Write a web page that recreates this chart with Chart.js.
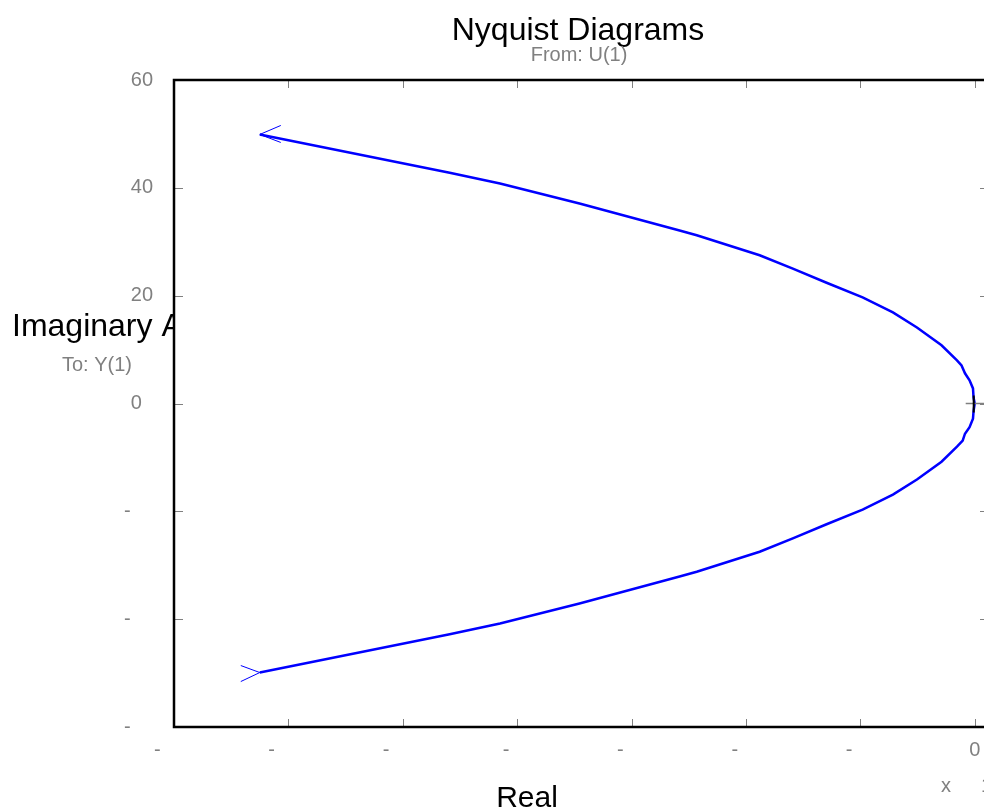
<!DOCTYPE html>
<html>
<head>
<meta charset="utf-8">
<script src="https://cdn.jsdelivr.net/npm/chart.js@4"></script>
<style>
  html, body { margin: 0; padding: 0; background: #fff; overflow: hidden; }
  #wrap { width: 1000px; height: 812px; }
</style>
</head>
<body>
<div id="wrap"><canvas id="myChart"></canvas></div>
<script>
// Nyquist path (real part in x 10^4, imaginary part)
const nyqRe = [-12.5, -9.18, -8.30, -6.91, -5.16, -4.86, -3.76, -3.18, -2.59, -1.96, -1.43, -1.01, -0.58, -0.31, -0.21, -0.17, -0.09, -0.03, -0.02, 0,
               -0.02, -0.03, -0.09, -0.17, -0.23, -0.31, -0.58, -1.01, -1.43, -1.96, -2.59, -3.18, -3.76, -4.86, -5.16, -6.91, -8.30, -9.18, -12.5];
const nyqIm = [-49.9, -42.8, -40.8, -37.1, -32.1, -31.2, -27.5, -25.0, -22.4, -19.7, -16.9, -14.1, -10.8, -8.0, -6.9, -5.6, -4.4, -2.8, -1.4, 0,
               1.1, 2.8, 4.3, 5.6, 7.05, 8.0, 10.8, 14.1, 16.9, 19.7, 22.4, 25.0, 27.5, 31.2, 32.1, 37.1, 40.8, 42.8, 49.9];
const xTicks = [-14, -12, -10, -8, -6, -4, -2, 0];
const yTicks = [-60, -40, -20, 0, 20, 40, 60];

const FONT = "'Liberation Sans', Arial, Helvetica, sans-serif";
const GRAY = '#808080';
const FS = '\u2007';

// negative labels only show their minus sign; pad so the sign sits where it does in the picture
const xTickText = v => v < 0 ? '-' + FS.repeat(String(Math.abs(v)).length + 1) : String(v);
const yTickText = v => v < 0 ? '-' + FS.repeat(String(Math.abs(v)).length) : (v === 0 ? '0' + FS : String(v));

const frame = {
    id: 'frame',
    beforeDraw(chart) {
        const {ctx, chartArea: a} = chart;
        ctx.save();
        ctx.fillStyle = '#000';
        ctx.font = '32px ' + FONT;
        ctx.textBaseline = 'alphabetic';
        ctx.textAlign = 'left';
        ctx.fillText('Imaginary Axis', 12, 336);
        ctx.fillStyle = '#fff';
        ctx.fillRect(a.left, a.top, a.right - a.left, a.bottom - a.top);
        ctx.restore();
    },
    afterDraw(chart) {
        const {ctx, chartArea: a, scales: {x, y}} = chart;
        ctx.save();
        // inward tick marks
        ctx.strokeStyle = GRAY;
        ctx.lineWidth = 1;
        ctx.beginPath();
        xTicks.forEach(v => {
            const px = Math.round(x.getPixelForValue(v)) + 0.5;
            ctx.moveTo(px, a.top); ctx.lineTo(px, a.top + 8);
            ctx.moveTo(px, a.bottom); ctx.lineTo(px, a.bottom - 8);
        });
        yTicks.forEach(v => {
            const py = Math.round(y.getPixelForValue(v)) + 0.5;
            ctx.moveTo(a.left, py); ctx.lineTo(a.left + 9, py);
            ctx.moveTo(a.right, py); ctx.lineTo(a.right - 9, py);
        });
        ctx.stroke();

        // box
        ctx.strokeStyle = '#000';
        ctx.lineWidth = 2.5;
        ctx.strokeRect(a.left, a.top, a.right - a.left, a.bottom - a.top);

        // marker at the origin
        const ox = x.getPixelForValue(0), oy = y.getPixelForValue(0);
        ctx.strokeStyle = GRAY;
        ctx.lineWidth = 1.5;
        ctx.beginPath();
        ctx.moveTo(ox - 9, oy); ctx.lineTo(ox + 12, oy);
        ctx.stroke();
        ctx.strokeStyle = '#000';
        ctx.lineWidth = 2;
        ctx.beginPath();
        ctx.moveTo(ox - 1, oy - 8); ctx.lineTo(ox - 1, oy + 9);
        ctx.stroke();

        // direction arrows at both ends of the path
        const n = nyqRe.length - 1;
        const tx = x.getPixelForValue(nyqRe[n]), ty = y.getPixelForValue(nyqIm[n]);
        const bx = x.getPixelForValue(nyqRe[0]), by = y.getPixelForValue(nyqIm[0]);
        ctx.strokeStyle = '#0000ff';
        ctx.lineWidth = 1;
        ctx.beginPath();
        ctx.moveTo(tx + 21, ty - 9); ctx.lineTo(tx, ty); ctx.lineTo(tx + 21, ty + 8);
        ctx.moveTo(bx - 19, by - 7); ctx.lineTo(bx, by); ctx.lineTo(bx - 19, by + 9);
        ctx.stroke();

        // titles and labels
        ctx.fillStyle = '#000';
        ctx.textAlign = 'center';
        ctx.textBaseline = 'alphabetic';
        ctx.font = '32px ' + FONT;
        ctx.fillText('Nyquist Diagrams', 578, 40);
        ctx.font = '30px ' + FONT;
        ctx.fillText('Real', 527, 807);
        ctx.fillStyle = GRAY;
        ctx.font = '20px ' + FONT;
        ctx.fillText('From: U(1)', 579, 61);
        ctx.textAlign = 'left';
        ctx.fillText('To: Y(1)', 62, 371);
        ctx.fillText('x', 941, 792);
        ctx.fillText('10', 981, 792);
        ctx.restore();
    }
};

new Chart(document.getElementById('myChart'), {
    type: 'scatter',
    data: {
        datasets: [{
            data: nyqRe.map((re, i) => ({x: re, y: nyqIm[i]})),
            showLine: true,
            borderColor: '#0000ff',
            borderWidth: 2.5,
            pointRadius: 0,
            tension: 0,
            fill: false,
        }]
    },
    options: {
        responsive: true,
        maintainAspectRatio: false,
        devicePixelRatio: 1,
        animation: false,
        layout: { padding: { left: 0, top: 80, right: 11, bottom: 0 } },
        plugins: { legend: { display: false }, tooltip: { enabled: false }, title: { display: false } },
        scales: {
            x: {
                type: 'linear',
                min: -14,
                max: 0.25,
                afterBuildTicks: s => { s.ticks = xTicks.map(v => ({value: v})); },
                afterFit: s => { s.height = 85; },
                grid: { display: false, drawTicks: false },
                border: { display: false },
                ticks: {
                    color: GRAY,
                    font: { family: FONT, size: 20 },
                    padding: 11,
                    maxRotation: 0,
                    autoSkip: false,
                    callback: xTickText,
                }
            },
            y: {
                type: 'linear',
                min: -60,
                max: 60,
                afterBuildTicks: s => { s.ticks = yTicks.map(v => ({value: v})); },
                afterFit: s => { s.width = 174; },
                grid: { display: false, drawTicks: false },
                border: { display: false },
                ticks: {
                    color: GRAY,
                    font: { family: FONT, size: 20 },
                    padding: 21,
                    autoSkip: false,
                    callback: yTickText,
                }
            }
        }
    },
    plugins: [frame]
});
</script>
</body>
</html>
